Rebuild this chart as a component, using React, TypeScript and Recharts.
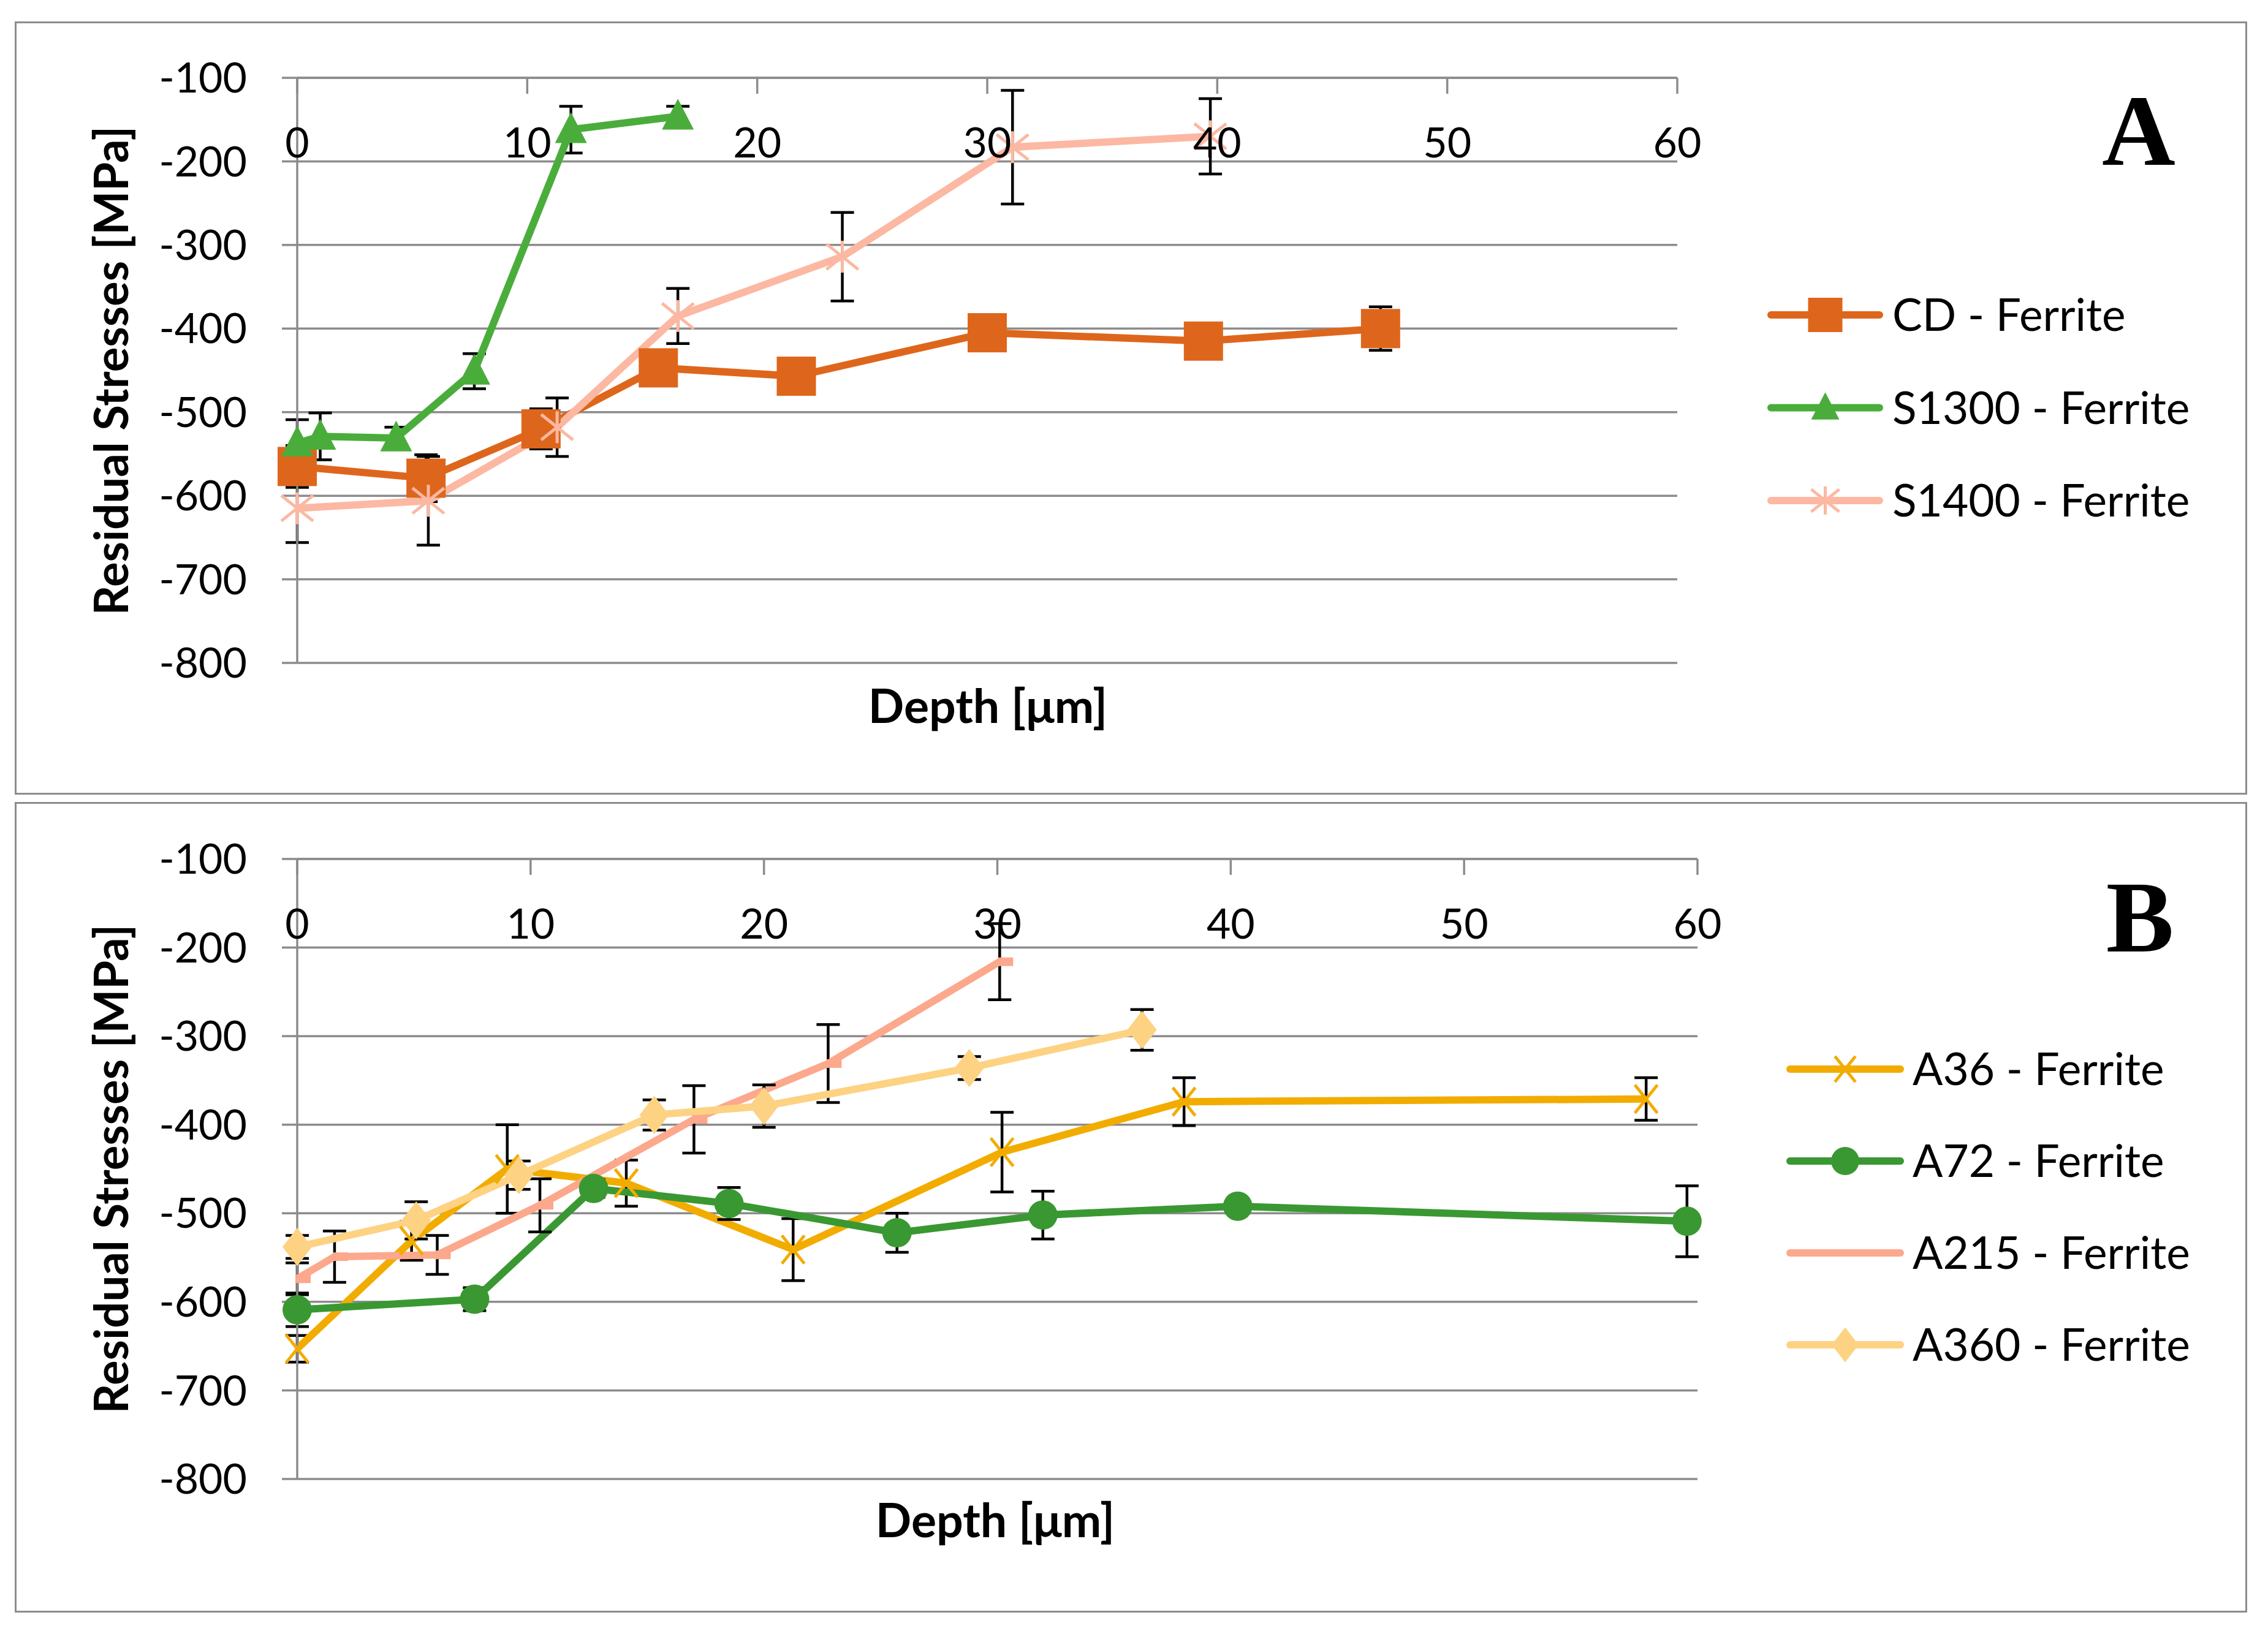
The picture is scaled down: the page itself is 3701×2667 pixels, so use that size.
import React from 'react';
import { LineChart, Line, XAxis, YAxis, CartesianGrid, ErrorBar, Legend } from 'recharts';

// ---------- Panel A data ----------
const cdDepth = [0, 5.6, 10.6, 15.7, 21.7, 30.0, 39.4, 47.1];
const cdStress = [-565, -579, -520, -447, -457, -405, -415, -400];
const cdError = [25, 28, 24, 12, 12, 12, 12, 26];

const s1300Depth = [0, 1.0, 4.3, 7.7, 11.9, 16.55];
const s1300Stress = [-537, -529, -531, -451, -162, -146];
const s1300Error = [28, 28, 13, 21, 28, 12];

const s1400Depth = [0, 5.7, 11.3, 16.55, 23.7, 31.1, 39.7];
const s1400Stress = [-615, -606, -518, -385, -314, -183, -170];
const s1400Error = [41, 53, 35, 33, 53, 68, 45];

// ---------- Panel B data ----------
const a36Depth = [0, 4.9, 9.0, 14.1, 21.25, 30.2, 38.0, 57.8];
const a36Stress = [-653, -531, -450, -466, -541, -431, -374, -371];
const a36Error = [15, 22, 50, 26, 35, 45, 27, 24];

const a72Depth = [0, 7.6, 12.7, 18.5, 25.7, 31.95, 40.3, 59.55];
const a72Stress = [-609, -597, -472, -489, -522, -502, -492, -509];
const a72Error = [19, 13, 10, 18, 22, 27, 8, 40];

const a215Depth = [0, 1.6, 6.0, 10.4, 17.0, 22.75, 30.1];
const a215Stress = [-574, -549, -547, -491, -394, -331, -216];
const a215Error = [18, 29, 22, 30, 38, 44, 43];

const a360Depth = [0, 5.1, 9.5, 15.3, 20.0, 28.8, 36.2];
const a360Stress = [-538, -508, -457, -389, -379, -336, -293];
const a360Error = [13, 21, 16, 17, 24, 13, 23];

// ---------- Axis ticks & labels ----------
const xTicks = [0, 10, 20, 30, 40, 50, 60];
const yTicks = [-800, -700, -600, -500, -400, -300, -200, -100];
const xTitle = 'Depth [μm]';
const yTitle = 'Residual Stresses [MPa]';

const FONT = "Lato, 'Open Sans', 'DejaVu Sans', sans-serif";
const SERIF = "'Liberation Serif', 'Times New Roman', serif";
const GRID = '#8c8c8c';

type Shape = 'square' | 'triangle' | 'star' | 'x' | 'circle' | 'dash' | 'diamond';

interface SeriesDef {
  name: string;
  color: string;
  shape: Shape;
  size: number;
  legendSize: number;
  depth: number[];
  stress: number[];
  error: number[];
}

const seriesA: SeriesDef[] = [
  { name: 'CD - Ferrite', color: '#DE661C', shape: 'square', size: 64, legendSize: 56, depth: cdDepth, stress: cdStress, error: cdError },
  { name: 'S1300 - Ferrite', color: '#4AAD3B', shape: 'triangle', size: 52, legendSize: 46, depth: s1300Depth, stress: s1300Stress, error: s1300Error },
  { name: 'S1400 - Ferrite', color: '#FCB8A2', shape: 'star', size: 52, legendSize: 46, depth: s1400Depth, stress: s1400Stress, error: s1400Error },
];

const seriesB: SeriesDef[] = [
  { name: 'A36 - Ferrite', color: '#F2AC00', shape: 'x', size: 46, legendSize: 42, depth: a36Depth, stress: a36Stress, error: a36Error },
  { name: 'A72 - Ferrite', color: '#3A9832', shape: 'circle', size: 48, legendSize: 46, depth: a72Depth, stress: a72Stress, error: a72Error },
  { name: 'A215 - Ferrite', color: '#FCA88C', shape: 'dash', size: 25, legendSize: 0, depth: a215Depth, stress: a215Stress, error: a215Error },
  { name: 'A360 - Ferrite', color: '#FDD283', shape: 'diamond', size: 48, legendSize: 44, depth: a360Depth, stress: a360Stress, error: a360Error },
];

const toRows = (s: SeriesDef) => s.depth.map((d, i) => ({ x: d, y: s.stress[i], err: s.error[i] }));

function Marker({ shape, cx, cy, color, size }: { shape: Shape; cx: number; cy: number; color: string; size: number }) {
  const h = size / 2;
  switch (shape) {
    case 'square':
      return <rect x={cx - h} y={cy - h} width={size} height={size} fill={color} />;
    case 'triangle':
      return <polygon points={`${cx},${cy - size * 0.55} ${cx + h},${cy + size * 0.42} ${cx - h},${cy + size * 0.42}`} fill={color} />;
    case 'star':
      return (
        <g stroke={color} strokeWidth={5}>
          <line x1={cx - h} y1={cy - h * 0.8} x2={cx + h} y2={cy + h * 0.8} />
          <line x1={cx - h} y1={cy + h * 0.8} x2={cx + h} y2={cy - h * 0.8} />
          <line x1={cx} y1={cy - h} x2={cx} y2={cy + h} />
        </g>
      );
    case 'x':
      return (
        <g stroke={color} strokeWidth={5}>
          <line x1={cx - h * 0.8} y1={cy - h} x2={cx + h * 0.8} y2={cy + h} />
          <line x1={cx - h * 0.8} y1={cy + h} x2={cx + h * 0.8} y2={cy - h} />
        </g>
      );
    case 'circle':
      return <circle cx={cx} cy={cy} r={h} fill={color} />;
    case 'diamond':
      return <polygon points={`${cx},${cy - h * 1.3} ${cx + h},${cy} ${cx},${cy + h * 1.3} ${cx - h},${cy}`} fill={color} />;
    case 'dash':
      if (size <= 0) return null;
      return <rect x={cx - 3} y={cy - 7} width={size} height={14} fill={color} />;
    default:
      return null;
  }
}

const XTick = (props: any) => {
  const { x, y, payload } = props;
  return (
    <g>
      <line x1={x} y1={y} x2={x} y2={y + 26} stroke={GRID} strokeWidth={3.5} />
      <text x={x} y={y + 106} dy="0.36em" textAnchor="middle" fontSize={68} fontFamily={FONT} fill="#000">
        {payload.value}
      </text>
    </g>
  );
};

interface PanelProps {
  top: number;
  height: number;
  series: SeriesDef[];
  letter: string;
  axisHeight: number;
  marginRight: number;
  marginBottom: number;
  legendLeft: number;
  legendTop: number;
  legendRow0: number;
  legendGap: number;
  legendLineLen: number;
  legendTextGap: number;
  yTitleY: number;
  xTitleX: number;
  xTitleY: number;
  letterX: number;
  letterY: number;
}

const PANEL_LEFT = 24;
const PANEL_WIDTH = 3643;

function Panel(p: PanelProps) {
  const legendContent = () => (
    <svg width={820} height={p.legendGap * p.series.length + 200} style={{ display: 'block', overflow: 'visible' }}>
      {p.series.map((def, i) => {
        const cy = p.legendRow0 + i * p.legendGap;
        const mid = p.legendLineLen / 2;
        return (
          <g key={def.name}>
            <line x1={6} y1={cy} x2={p.legendLineLen - 6} y2={cy} stroke={def.color} strokeWidth={12} strokeLinecap="round" />
            <Marker shape={def.shape} cx={mid} cy={cy} color={def.color} size={def.legendSize} />
            <text x={p.legendLineLen + p.legendTextGap} y={cy} dy="0.36em" fontSize={73} fontFamily={FONT} fill="#000">
              {def.name}
            </text>
          </g>
        );
      })}
    </svg>
  );

  return (
    <div style={{ position: 'absolute', left: PANEL_LEFT, top: p.top, width: PANEL_WIDTH, height: p.height }}>
      <div
        style={{
          position: 'absolute',
          left: 0,
          top: 0,
          width: PANEL_WIDTH,
          height: p.height,
          border: `3px solid ${GRID}`,
          boxSizing: 'border-box',
        }}
      />
      <div style={{ position: 'absolute', left: 0, top: 0 }}>
        <LineChart
          width={PANEL_WIDTH}
          height={p.height}
          margin={{ top: 0, left: 0, right: p.marginRight, bottom: p.marginBottom }}
        >
          <CartesianGrid vertical={false} stroke={GRID} strokeWidth={3.5} />
          <XAxis
            dataKey="x"
            type="number"
            orientation="top"
            domain={[0, 60]}
            ticks={xTicks}
            height={p.axisHeight}
            tickSize={0}
            tickMargin={0}
            tickLine={false}
            tick={<XTick />}
            axisLine={{ stroke: GRID, strokeWidth: 3.5 }}
            interval={0}
          />
          <YAxis
            type="number"
            domain={[-800, -100]}
            ticks={yTicks}
            width={461}
            tickSize={25}
            tickMargin={57}
            tickLine={{ stroke: GRID, strokeWidth: 3.5 }}
            axisLine={{ stroke: GRID, strokeWidth: 3.5 }}
            tick={{ fontSize: 68, fill: '#000', fontFamily: FONT }}
            interval={0}
          />
          {p.series.map((s) => (
            <Line
              key={s.name}
              name={s.name}
              data={toRows(s)}
              dataKey="y"
              stroke={s.color}
              strokeWidth={12}
              isAnimationActive={false}
              activeDot={false}
              dot={(dp: any) => (
                <Marker key={`${s.name}-${dp.index}`} shape={s.shape} cx={dp.cx} cy={dp.cy} color={s.color} size={s.size} />
              )}
            >
              <ErrorBar dataKey="err" direction="y" width={19} strokeWidth={4.5} stroke="#000" isAnimationActive={false} />
            </Line>
          ))}
          <Legend
            layout="horizontal"
            verticalAlign="middle"
            align="center"
            content={legendContent}
            wrapperStyle={{ left: p.legendLeft, top: p.legendTop, width: 820, height: 700 }}
          />
        </LineChart>
      </div>
      <svg
        width={PANEL_WIDTH}
        height={p.height}
        style={{ position: 'absolute', left: 0, top: 0, pointerEvents: 'none', overflow: 'visible' }}
      >
        <text
          x={158}
          y={p.yTitleY}
          dy="0.36em"
          textAnchor="middle"
          fontSize={76}
          fontWeight="bold"
          fontFamily={FONT}
          fill="#000"
          transform={`rotate(-90, 158, ${p.yTitleY})`}
        >
          {yTitle}
        </text>
        <text x={p.xTitleX} y={p.xTitleY} dy="0.36em" textAnchor="middle" fontSize={77} fontWeight="bold" fontFamily={FONT} fill="#000">
          {xTitle}
        </text>
        <text x={p.letterX} y={p.letterY} textAnchor="middle" fontSize={166} fontWeight="bold" fontFamily={SERIF} fill="#000">
          {p.letter}
        </text>
      </svg>
    </div>
  );
}

export default function App() {
  return (
    <div style={{ position: 'absolute', left: 0, top: 0, width: 3701, height: 2667, background: '#fff' }}>
      <Panel
        top={35}
        height={1262}
        series={seriesA}
        letter="A"
        axisHeight={92}
        marginRight={930}
        marginBottom={215}
        legendLeft={2860}
        legendTop={300}
        legendRow0={179}
        legendGap={151.5}
        legendLineLen={189}
        legendTextGap={15}
        yTitleY={570}
        xTitleX={1588}
        xTitleY={1117}
        letterX={3466}
        letterY={234}
      />
      <Panel
        top={1309}
        height={1323}
        series={seriesB}
        letter="B"
        axisHeight={93}
        marginRight={897}
        marginBottom={218}
        legendLeft={2891}
        legendTop={300}
        legendRow0={136}
        legendGap={150}
        legendLineLen={192}
        legendTextGap={14}
        yTitleY={599}
        xTitleX={1600}
        xTitleY={1172}
        letterX={3468}
        letterY={244}
      />
    </div>
  );
}
